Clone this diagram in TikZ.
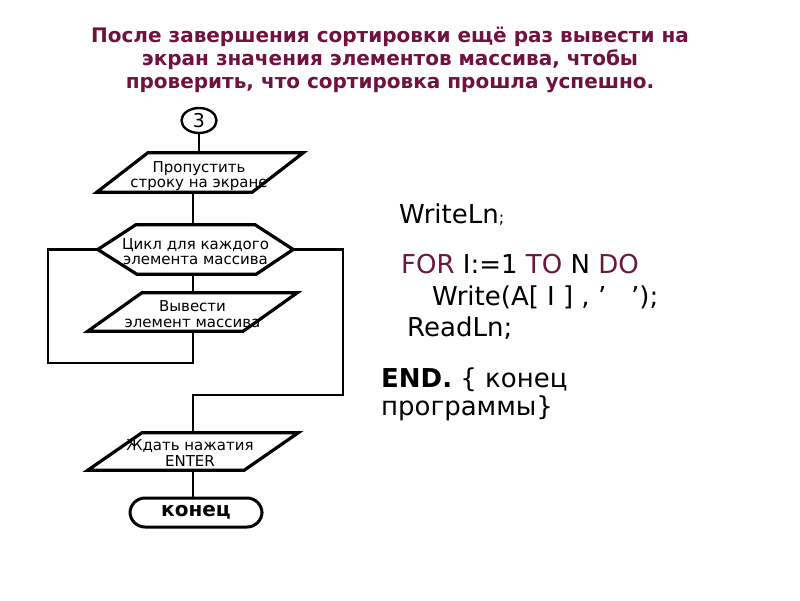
\documentclass[tikz,border=0pt]{standalone}
\usepackage{fontspec}
\setmainfont{DejaVu Sans}
\usetikzlibrary{shapes.geometric}
\definecolor{titlecol}{RGB}{112,18,64}
\definecolor{kwcol}{RGB}{105,25,60}
\newcommand\myparallel[2]{\draw[shp] ([xshift=#2]#1.north west) -- ([xshift=#2]#1.north east) -- ([xshift=-#2]#1.south east) -- ([xshift=-#2]#1.south west) -- cycle;}
\begin{document}
\begin{tikzpicture}[x=1pt,y=-1pt,
  title/.style={anchor=base, inner sep=0pt, text=titlecol, font=\bfseries\fontsize{20}{23}\selectfont},
  shape box/.style={inner sep=0pt},
  txt/.style={inner sep=0pt, align=center, font=\fontsize{15}{15.5}\selectfont},
  shp/.style={line width=3.2pt, line join=miter},
  wire/.style={line width=2.8pt},
  code/.style={anchor=base west, inner sep=0pt, font=\fontsize{26}{30}\selectfont}]
\useasboundingbox[fill=white] (0,0) rectangle (800,600);
% title
\node[title] (t1) at (390,42) {После завершения сортировки ещё раз вывести на};
\node[title] (t2) at (390,65) {экран значения элементов массива, чтобы};
\node[title] (t3) at (390,88) {проверить, что сортировка прошла успешно.};
% flowchart
\coordinate (axis) at (193,0);
\node[ellipse, draw, line width=2.4pt, minimum width=35pt, minimum height=25pt, inner sep=0pt, font=\fontsize{19}{19}\selectfont] (c3) at (199,120.5) {3};
\node[shape box, minimum width=155pt, minimum height=39pt] (p1) at (200,172.5) {};
\myparallel{p1}{25.5pt}
\node[txt] (p1t) at (199,176) {Пропустить\\строку на экране};
\node[shape box, minimum width=195pt, minimum height=49pt] (h) at (195.5,249.5) {};
\draw[shp] (h.west) -- ([xshift=38pt]h.north west) -- ([xshift=-38pt]h.north east) -- (h.east) -- ([xshift=-37pt]h.south east) -- ([xshift=39pt]h.south west) -- cycle;
\node[txt] (ht) at (195.5,251.5) {Цикл для каждого\\элемента массива};
\node[shape box, minimum width=155pt, minimum height=38pt] (p2) at (192.5,312) {};
\myparallel{p2}{27pt}
\node[txt] (p2t) at (192.5,314) {Вывести\\элемент массива};
\node[shape box, minimum width=156pt, minimum height=37pt] (p3) at (193,451.5) {};
\myparallel{p3}{27pt}
\node[txt] (p3t) at (190,453) {Ждать нажатия\\ENTER};
\node[draw, line width=3pt, rounded corners=15pt, minimum width=132pt, minimum height=29pt, inner sep=0pt, font=\bfseries\fontsize{20}{20}\selectfont] (term) at (196,512.5) {конец};
% connectors
\coordinate (lb) at (48,363);
\coordinate (rb) at (343,395);
\draw[wire] (c3.south) -- (c3.south |- p1.north);
\draw[wire] (axis |- p1.south) -- (axis |- h.north);
\draw[wire] (axis |- h.south) -- (axis |- p2.north);
\draw[wire] (h.west) -| (lb) -| (axis |- p2.south);
\draw[wire] (h.east) -| (rb) -| (axis |- p3.north);
\draw[wire] (axis |- p3.south) -- (axis |- term.north);
% code
\node[code] (w1) at (399,223) {WriteLn{\fontsize{16}{16}\selectfont;}};
\node[code] (f1) at (401,273) {\textcolor{kwcol}{FOR} I:=1 \textcolor{kwcol}{TO} N \textcolor{kwcol}{DO}};
\node[code] (w2) at (432,305) {Write(A[ I ] , ’\ \ \ ’);};
\node[code] (r1) at (407,336) {ReadLn;};
\node[code] (e1) at (381,387) {\textbf{END.} \{ конец};
\node[code] (e2) at (381,415) {программы\}};
\end{tikzpicture}
\end{document}
